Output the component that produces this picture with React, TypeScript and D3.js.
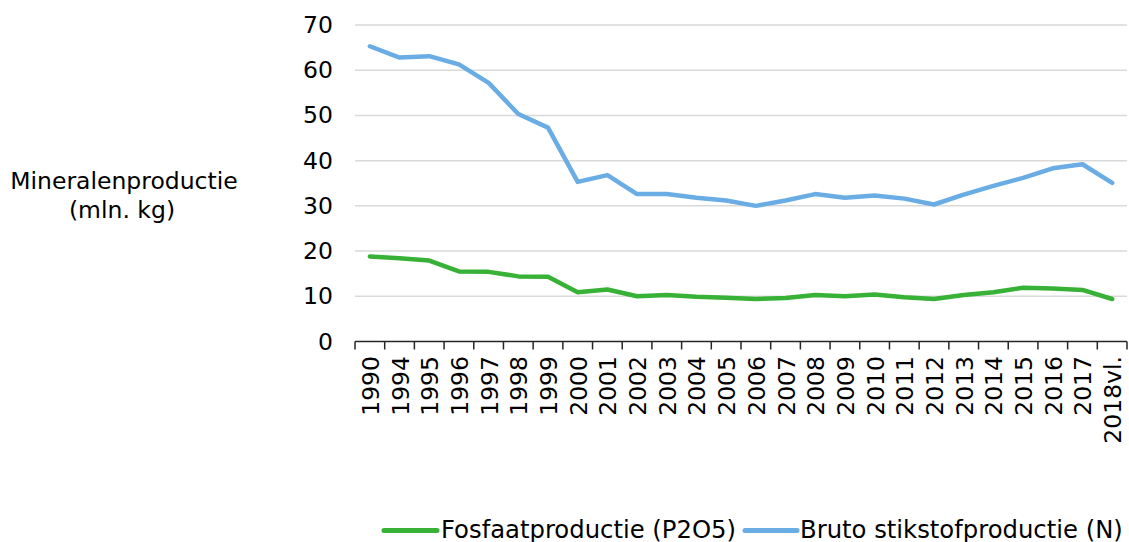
import React from "react";
import * as d3 from "d3";

const categories = ["1990","1994","1995","1996","1997","1998","1999","2000","2001","2002","2003","2004","2005","2006","2007","2008","2009","2010","2011","2012","2013","2014","2015","2016","2017","2018vl."];
const fosfaat = [18.8,18.4,17.9,15.5,15.4,14.4,14.3,10.9,11.5,10.0,10.3,9.9,9.7,9.4,9.6,10.3,10.0,10.4,9.8,9.4,10.3,10.9,11.9,11.7,11.4,9.4];
const stikstof = [65.3,62.8,63.1,61.3,57.2,50.3,47.3,35.3,36.8,32.6,32.6,31.8,31.2,30.0,31.2,32.6,31.8,32.3,31.6,30.3,32.5,34.4,36.2,38.3,39.2,35.1];
const yTicks = [0,10,20,30,40,50,60,70];
const seriesNames = ["Fosfaatproductie (P2O5)", "Bruto stikstofproductie (N)"];
const colors = ["#38b236", "#6aade4"];

const W = 1129, H = 542;
const FONT = "Verdana, 'DejaVu Sans', sans-serif";
const FS = 23.5;
const LFS = 24.3;

export default function App() {
  const x = d3.scaleBand<string>().domain(categories).range([355, 1127]);
  const y = d3.scaleLinear().domain([0, 70]).range([341.5, 25]);
  const cx = (c: string) => (x(c) as number) + x.bandwidth() / 2;
  const line = d3.line<number>().x((_, i) => cx(categories[i])).y(d => y(d));
  const boundaries = categories.map(c => x(c) as number).concat([x.range()[1]]);
  const series = [fosfaat, stikstof];

  return (
    <svg width={W} height={H} style={{ position: "absolute", left: 0, top: 0, background: "#fff" }} fontFamily={FONT}>
      {yTicks.filter(t => t > 0).map(t => (
        <line key={t} x1={355} x2={1127} y1={y(t)} y2={y(t)} stroke="#d9d9d9" strokeWidth={1.5} />
      ))}
      {yTicks.map(t => (
        <text key={t} x={333} y={y(t)} textAnchor="end" dominantBaseline="central" fontSize={FS} fill="#000">{t}</text>
      ))}
      <line x1={355} x2={1127} y1={y(0)} y2={y(0)} stroke="#262626" strokeWidth={1.5} />
      {boundaries.map((b, i) => (
        <line key={i} x1={b} x2={b} y1={y(0)} y2={y(0) + 8} stroke="#262626" strokeWidth={1.5} />
      ))}
      {categories.map(c => (
        <text key={c} transform={`translate(${cx(c) + 1},356) rotate(-90)`} textAnchor="end" dominantBaseline="central" fontSize={FS} fill="#000">{c}</text>
      ))}
      <text x={124} y={189} textAnchor="middle" fontSize={FS} fill="#000">Mineralenproductie</text>
      <text x={122} y={218} textAnchor="middle" fontSize={FS} fill="#000">(mln. kg)</text>
      {series.map((s, i) => (
        <path key={i} d={line(s) || ""} fill="none" stroke={colors[i]} strokeWidth={4.5} strokeLinejoin="round" strokeLinecap="round" />
      ))}
      <g>
        <line x1={384} x2={437} y1={530.5} y2={530.5} stroke={colors[0]} strokeWidth={5} strokeLinecap="round" />
        <text x={441} y={537.5} fontSize={LFS} fill="#000">{seriesNames[0]}</text>
        <line x1={745} x2={797} y1={530.5} y2={530.5} stroke={colors[1]} strokeWidth={5} strokeLinecap="round" />
        <text x={800} y={537.5} fontSize={LFS} fill="#000">{seriesNames[1]}</text>
      </g>
    </svg>
  );
}
